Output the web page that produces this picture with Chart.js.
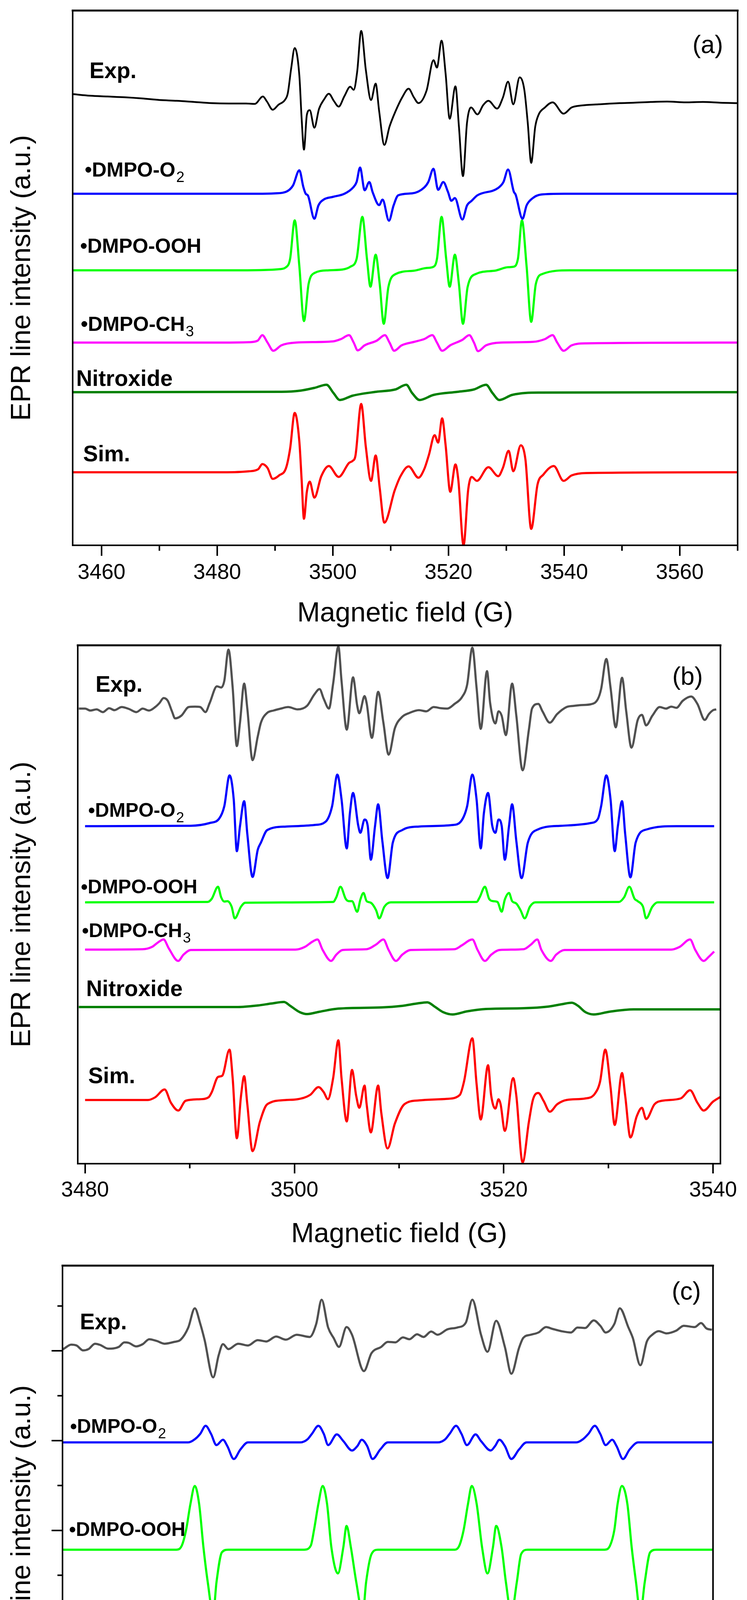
<!DOCTYPE html>
<html><head><meta charset="utf-8">
<script src="https://cdn.jsdelivr.net/npm/chart.js@4.4.0/dist/chart.umd.min.js"></script>
<style>
html,body{margin:0;padding:0;background:#fff;}
#wrap{position:relative;width:1912px;height:4790px;background:#fff;overflow:hidden;}
canvas{position:absolute;left:0;}
</style></head><body><div id="wrap">
<canvas id="ca" width="1912" height="1640" style="top:0px;width:1912px;height:1640px"></canvas>
<canvas id="cb" width="1912" height="1580" style="top:1640px;width:1912px;height:1580px"></canvas>
<canvas id="cc" width="1912" height="1570" style="top:3220px;width:1912px;height:1570px"></canvas>
</div>
<script>
// ---------- axis ticks ----------
const ticksA = [3460, 3480, 3500, 3520, 3540, 3560];
const minorA = [3470, 3490, 3510, 3530, 3550, 3570];
const ticksBC = [3480, 3500, 3520, 3540];
const minorBC = [3490, 3510, 3530];
const yMajorC = [1, 3, 5, 7, 9];
const yMinorC = [0, 2, 4, 6, 8, 10];

// ---------- panel (a) spectra : [field (G), intensity relative to baseline] ----------
const aExp = [[3455.1,23],[3458,19],[3461,17],[3464,15],[3467,12],[3470,8],[3473,6],[3476,3],[3479,0],[3482,-1],[3485,-1],[3486.5,-2],[3487.9,17],[3488.6,4],[3489.6,-17],[3490.6,-4],[3491.7,8],[3492.2,25],[3492.8,90],[3493.4,141],[3494.2,71],[3494.6,-40],[3495.0,-119],[3495.5,-30],[3496.0,-18],[3496.8,-63],[3497.6,-15],[3498.5,10],[3499.3,24],[3500.2,5],[3501.0,-9],[3502.0,18],[3503.0,42],[3503.6,34],[3504.2,80],[3504.9,185],[3505.7,85],[3506.6,8],[3507.4,50],[3508.0,-20],[3508.9,-107],[3509.8,-60],[3510.8,-22],[3512.0,15],[3513.1,37],[3514.0,15],[3514.8,0],[3516.2,32],[3517.4,110],[3518.0,91],[3518.8,160],[3519.5,75],[3520.2,-40],[3521.2,43],[3521.8,-60],[3522.5,-187],[3523.2,-50],[3523.9,-11],[3525.0,-29],[3526.0,-5],[3526.9,6],[3528.4,-14],[3529.4,14],[3530.3,55],[3531.2,-3],[3532.3,66],[3533.1,35],[3533.7,-50],[3534.3,-153],[3535.0,-60],[3535.6,-29],[3536.6,-12],[3538.0,2],[3539.9,-27],[3541.3,-11],[3543,-6],[3546,-3],[3549.6,0],[3552,1],[3555,3],[3557.8,4],[3561,2],[3564,3],[3567,1],[3570,0]];
const aO2 = [[3455,0],[3487,0],[3490,1],[3491.9,5],[3493.1,21],[3494.2,60],[3494.9,17],[3495.3,0],[3495.7,-5],[3496.8,-64],[3497.5,-30],[3498.4,-15],[3500,-8],[3502,0],[3503.5,16],[3504.1,30],[3504.7,67],[3505.5,9],[3506.3,30],[3506.9,3],[3508.0,-29],[3508.6,-15],[3509.7,-69],[3510.5,-30],[3511.3,-4],[3513.7,1],[3515.8,16],[3516.5,30],[3517.4,64],[3518.2,10],[3519.1,30],[3519.9,5],[3520.5,-18],[3521.1,-11],[3522.4,-66],[3523.2,-30],[3524.0,-18],[3525.0,-4],[3528.5,14],[3529.5,30],[3530.3,62],[3531.3,5],[3531.6,-2],[3532.8,-64],[3533.5,-30],[3534.5,-12],[3536,-2],[3540,0],[3570,0]];
const aOOH = [[3455,0],[3484,0],[3488.5,1],[3490.8,3],[3491.9,8],[3492.6,29],[3493.4,128],[3494.2,11],[3495.0,-130],[3495.8,-35],[3496.8,-7],[3499.3,0],[3502,3],[3503.0,9],[3504.1,29],[3505.1,137],[3505.9,29],[3506.5,-42],[3507.4,40],[3508.1,-35],[3508.8,-137],[3509.6,-43],[3510.8,-10],[3514,-1],[3516.2,6],[3517.4,9],[3518.0,29],[3518.8,137],[3519.6,29],[3520.2,-42],[3521.1,40],[3521.8,-35],[3522.5,-137],[3523.3,-43],[3524.8,-9],[3528,-1],[3530.3,8],[3531.2,9],[3532.0,29],[3532.7,128],[3533.5,11],[3534.3,-132],[3535.1,-35],[3536.3,-9],[3541,0],[3570,0]];
const aCH3 = [[3455,0],[3481,0],[3485.5,1],[3487.0,5],[3487.8,19],[3488.7,0],[3489.7,-21],[3491.1,-7],[3493.6,0],[3500,3],[3501.4,9],[3502.8,19],[3503.6,0],[3504.3,-20],[3505.5,-7],[3507.6,5],[3509.0,19],[3509.8,0],[3510.6,-21],[3511.9,-7],[3514.1,2],[3515.8,9],[3517.2,19],[3518.0,0],[3518.9,-21],[3520.3,-7],[3522.4,7],[3523.6,19],[3524.4,0],[3525.1,-22],[3526.5,-7],[3529.0,0],[3534.7,2],[3536.7,9],[3538.0,19],[3538.8,0],[3539.9,-21],[3541.3,-7],[3543.8,-2],[3570,0]];
const aNit = [[3455,0],[3491.1,1],[3494.4,4],[3496.8,11],[3498.9,19],[3500.1,-2],[3501.2,-20],[3503.4,-9],[3507.5,1],[3510.8,7],[3512.7,19],[3513.7,-2],[3515.0,-20],[3517.4,-7],[3521.6,1],[3524.4,7],[3526.5,19],[3527.6,-2],[3528.8,-20],[3531.0,-7],[3535.6,-1],[3570,0]];
const aSim = [[3455,0],[3481,0],[3485.5,2.5],[3487.1,8],[3487.8,21],[3488.7,11],[3489.6,-17],[3490.7,-8],[3491.9,11],[3492.6,60],[3493.4,152],[3494.2,79],[3494.6,-20],[3495.0,-119],[3495.5,-50],[3496.0,-24],[3496.8,-65],[3498.0,-10],[3499.3,16],[3501.0,-12],[3502.8,24],[3503.4,29],[3503.9,42],[3504.9,175],[3505.7,65],[3506.6,-22],[3507.4,43],[3508.1,-40],[3508.9,-129],[3510.7,-46],[3511.7,-10],[3513.1,15],[3514.8,-14],[3515.8,8],[3516.6,44],[3517.6,95],[3518.2,76],[3518.9,138],[3519.5,69],[3520.3,-50],[3521.2,20],[3521.7,-20],[3522.6,-187],[3523.4,-45],[3524.0,-12],[3524.9,-22],[3526.9,13],[3528.6,-10],[3529.4,11],[3530.4,55],[3531.2,2.5],[3532.5,69],[3533.3,33],[3534.3,-145],[3535.4,-31],[3536.4,-6],[3538.2,16],[3539.9,-22],[3541.3,-8],[3543.8,-2],[3570,0]];
const baseA = [1132, 900, 704, 519, 392, 187];

// ---------- panel (b) spectra ----------
const bExp = [[3479.4,0],[3480.0,0],[3480.5,-5],[3481.1,-2],[3481.7,-9],[3482.3,1],[3482.8,-4],[3483.5,4],[3484.2,-1],[3484.9,-9],[3485.5,0],[3486.1,-5],[3486.7,4],[3487.1,14],[3487.5,27],[3487.9,20],[3488.3,-7],[3488.6,-25],[3489.2,-18],[3489.9,4],[3490.5,5],[3491.0,4],[3491.5,-9],[3491.9,14],[3492.6,57],[3493.0,54],[3493.3,71],[3493.7,151],[3494.1,54],[3494.5,-96],[3494.8,-36],[3495.2,64],[3495.5,0],[3496.0,-132],[3496.5,-71],[3496.8,-36],[3497.4,-11],[3498.0,-5],[3498.7,0],[3499.4,4],[3500.3,-2],[3501.2,7],[3501.9,36],[3502.4,50],[3502.8,25],[3503.3,0],[3503.7,64],[3504.2,159],[3504.5,71],[3505.0,-54],[3505.6,80],[3506.0,7],[3506.2,-12],[3506.7,32],[3506.9,14],[3507.4,-75],[3508.0,43],[3508.5,-36],[3509.0,-118],[3509.6,-50],[3510.3,-21],[3511.0,-11],[3511.9,-4],[3512.6,-7],[3513.3,4],[3514.0,1],[3514.6,0],[3515.3,12],[3516.0,29],[3516.5,61],[3517.0,156],[3517.4,54],[3517.8,-52],[3518.4,96],[3518.7,14],[3519.2,-38],[3519.5,-7],[3519.8,-18],[3520.2,-68],[3520.8,64],[3521.2,-18],[3521.8,-158],[3522.4,-54],[3522.7,0],[3523.3,12],[3523.7,-7],[3524.4,-36],[3525.1,-14],[3526.0,4],[3526.7,7],[3527.4,9],[3528.3,11],[3529.0,25],[3529.3,50],[3529.8,127],[3530.2,54],[3530.7,-48],[3531.3,79],[3531.7,-7],[3532.2,-100],[3532.8,-29],[3533.2,-16],[3533.6,-43],[3534.2,-18],[3534.9,4],[3535.5,0],[3536.0,5],[3536.5,2],[3537.1,20],[3537.9,31],[3538.5,12],[3539.2,-29],[3539.6,-14],[3540.0,-4],[3540.3,-2]];
const bO2 = [[3480.0,0],[3490.1,1],[3491.9,8],[3492.8,19],[3493.3,51],[3493.8,130],[3494.2,69],[3494.5,-64],[3494.8,0],[3495.2,64],[3495.5,-20],[3496.0,-130],[3496.5,-60],[3496.8,-42],[3497.4,-10],[3499.2,-1],[3501.9,3],[3503.0,12],[3503.6,51],[3504.1,132],[3504.5,69],[3505.0,-57],[3505.3,33],[3505.6,85],[3506.1,1],[3506.3,-17],[3506.7,17],[3507.0,1],[3507.3,-86],[3507.7,0],[3508.0,56],[3508.4,-38],[3508.9,-133],[3509.4,-42],[3510.3,-10],[3511.9,-1],[3515.1,3],[3515.9,12],[3516.5,51],[3517.0,132],[3517.4,69],[3517.8,-57],[3518.1,33],[3518.5,85],[3518.9,1],[3519.2,-17],[3519.5,17],[3519.8,1],[3520.1,-86],[3520.5,0],[3520.8,56],[3521.2,-38],[3521.7,-133],[3522.3,-42],[3523.3,-8],[3525.5,1],[3528.3,8],[3529.0,19],[3529.3,51],[3529.8,130],[3530.2,69],[3530.6,-64],[3530.9,0],[3531.3,64],[3531.6,-20],[3532.1,-131],[3532.6,-42],[3533.7,-8],[3536.5,0],[3540.1,0]];
const bOOH = [[3480.0,0],[3491.7,1],[3492.1,9],[3492.7,40],[3493.0,13],[3493.3,2],[3493.6,3],[3494.0,-11],[3494.3,-41],[3494.9,-11],[3495.3,-1],[3503.7,1],[3504.0,13],[3504.4,40],[3504.9,9],[3505.2,3],[3505.5,3],[3506.0,-24],[3506.3,7],[3506.6,24],[3506.9,3],[3507.3,-1],[3507.8,-20],[3508.1,-41],[3508.6,-11],[3509.2,0],[3517.4,1],[3517.7,13],[3518.2,40],[3518.6,9],[3519.0,3],[3519.4,1],[3519.8,-24],[3520.1,7],[3520.5,24],[3520.8,3],[3521.2,-3],[3521.6,-20],[3522.0,-41],[3522.5,-11],[3523.0,0],[3531.0,1],[3531.5,13],[3532.0,40],[3532.5,9],[3532.8,3],[3533.3,-11],[3533.6,-41],[3534.2,-11],[3534.7,0],[3540.1,0]];
const bCH3 = [[3480.0,0],[3485.5,1],[3486.4,7],[3487.0,19],[3487.5,26],[3488.0,3],[3488.9,-29],[3489.4,-13],[3490.1,-1],[3500.1,0],[3501.0,7],[3501.7,20],[3502.2,26],[3502.7,-1],[3503.5,-29],[3504.0,-13],[3504.6,-1],[3506.9,1],[3507.8,13],[3508.5,26],[3509.0,-1],[3509.7,-29],[3510.3,-13],[3511.1,-1],[3515.3,1],[3516.0,11],[3517.0,26],[3517.5,-1],[3518.2,-29],[3518.8,-13],[3519.6,-1],[3521.9,1],[3522.6,13],[3523.2,26],[3523.6,-1],[3524.5,-29],[3525.0,-13],[3525.8,-1],[3536.0,0],[3536.8,7],[3537.8,26],[3538.3,-1],[3539.1,-29],[3539.6,-18],[3540.1,-5]];
const bNit = [[3479.4,0],[3494.6,0],[3496.5,4],[3497.8,9],[3499.0,13],[3499.6,3],[3500.5,-13],[3501.2,-18],[3502.4,-12],[3504.2,-4],[3508.3,-1],[3510.3,3],[3511.7,9],[3512.7,12],[3513.4,1],[3514.2,-13],[3515.1,-19],[3516.5,-11],[3518.3,-5],[3521.9,-3],[3524.2,1],[3525.5,7],[3526.5,11],[3527.1,3],[3527.8,-13],[3528.6,-19],[3530.1,-12],[3532.4,-6],[3540.7,-6]];
const bSim = [[3480.0,0],[3486.0,0],[3486.7,7],[3487.6,27],[3488.2,-7],[3488.9,-27],[3489.6,-2],[3491.0,2],[3491.8,7],[3492.1,20],[3492.7,59],[3493.1,62],[3493.8,129],[3494.1,56],[3494.5,-98],[3494.9,11],[3495.2,61],[3495.5,-11],[3496.0,-131],[3496.7,-56],[3497.4,-11],[3499.2,0],[3500.3,2],[3501.5,13],[3502.3,33],[3502.8,20],[3503.2,2],[3503.7,56],[3504.2,153],[3504.5,56],[3505.0,-55],[3505.5,77],[3505.9,11],[3506.2,-20],[3506.7,37],[3506.9,-11],[3507.3,-83],[3508.0,37],[3508.3,-33],[3508.9,-124],[3509.6,-60],[3510.5,-11],[3511.9,-1],[3514.6,3],[3515.8,13],[3516.2,47],[3517.0,158],[3517.4,42],[3517.8,-50],[3518.5,89],[3518.8,11],[3519.2,-22],[3519.5,2],[3519.7,-11],[3520.1,-79],[3520.9,56],[3521.2,11],[3521.8,-160],[3522.4,-56],[3522.8,2],[3523.3,18],[3523.8,-2],[3524.4,-30],[3525.1,-11],[3526.0,0],[3527.8,4],[3528.7,16],[3529.2,47],[3529.7,129],[3530.2,33],[3530.6,-64],[3531.3,69],[3531.6,11],[3532.1,-96],[3532.7,-42],[3533.2,-20],[3533.6,-49],[3534.4,-11],[3535.1,-2],[3536.9,4],[3537.8,25],[3538.5,-7],[3539.1,-27],[3540.0,-4],[3540.7,8]];
const baseB = [1165, 864, 669, 548, 401, 163];

// ---------- panel (c) spectra ----------
const cExp = [[3480.0,-0.03],[3480.2,0.00],[3480.8,0.08],[3481.3,0.06],[3481.9,-0.05],[3482.4,-0.02],[3483.0,0.10],[3483.5,0.07],[3484.2,-0.01],[3485.2,0.03],[3485.7,0.13],[3486.1,0.12],[3486.8,0.04],[3487.4,0.09],[3488.0,0.20],[3488.7,0.16],[3489.4,0.10],[3490.3,0.14],[3490.9,0.19],[3491.6,0.46],[3492.2,0.89],[3492.7,0.55],[3493.1,0.19],[3493.9,-0.65],[3494.4,-0.16],[3494.8,0.09],[3495.3,-0.02],[3496.2,0.10],[3497.1,0.06],[3498.0,0.18],[3498.8,0.15],[3499.7,0.26],[3500.6,0.19],[3501.6,0.30],[3502.8,0.25],[3503.4,0.54],[3503.9,1.08],[3504.5,0.46],[3505.0,0.23],[3505.5,0.03],[3506.2,0.47],[3506.7,0.30],[3507.8,-0.51],[3508.5,-0.11],[3509.4,0.03],[3510.0,0.14],[3510.7,0.13],[3511.4,0.24],[3512.0,0.20],[3512.7,0.31],[3513.3,0.25],[3514.0,0.37],[3514.6,0.30],[3515.5,0.42],[3516.4,0.46],[3517.2,0.57],[3517.8,1.08],[3518.6,0.30],[3519.2,-0.08],[3520.0,0.61],[3520.8,0.03],[3521.4,-0.57],[3522.1,0.00],[3522.5,0.23],[3523.2,0.30],[3523.9,0.35],[3524.6,0.47],[3525.2,0.43],[3526.0,0.38],[3526.9,0.35],[3527.5,0.46],[3528.2,0.45],[3529.0,0.62],[3529.6,0.50],[3530.1,0.35],[3530.9,0.54],[3531.4,0.89],[3532.2,0.46],[3532.6,0.23],[3533.3,-0.38],[3533.9,0.15],[3534.4,0.30],[3535.0,0.38],[3535.7,0.33],[3536.6,0.39],[3537.3,0.50],[3538.3,0.47],[3538.9,0.56],[3539.4,0.44],[3539.9,0.41]];
const cO2 = [[3480,0],[3491.6,0],[3492.2,0.07],[3492.7,0.19],[3493.2,0.37],[3493.7,0.19],[3494.2,-0.06],[3494.8,0.06],[3495.2,-0.08],[3495.8,-0.37],[3496.4,-0.16],[3497.1,0],[3501.9,0],[3502.6,0.07],[3503.0,0.19],[3503.6,0.37],[3504.1,0.19],[3504.5,-0.06],[3505.3,0.18],[3505.9,0.03],[3506.7,-0.18],[3507.2,-0.08],[3507.6,0.06],[3508.1,-0.08],[3508.6,-0.37],[3509.3,-0.16],[3510.0,0],[3514.6,0],[3515.3,0.07],[3515.7,0.19],[3516.3,0.37],[3516.8,0.19],[3517.3,-0.06],[3518.1,0.18],[3518.6,0.03],[3519.5,-0.18],[3519.9,-0.08],[3520.3,0.06],[3520.8,-0.08],[3521.4,-0.37],[3522.1,-0.16],[3522.8,0],[3527.4,0],[3528.0,0.07],[3528.5,0.19],[3529.1,0.37],[3529.6,0.19],[3530.1,-0.06],[3530.7,0.06],[3531.1,-0.08],[3531.7,-0.37],[3532.3,-0.16],[3533.1,0],[3540,0]];
const cOOH = [[3480,0],[3490.5,0],[3491.0,0.09],[3491.4,0.44],[3491.8,1.02],[3492.2,1.42],[3492.6,1.02],[3493.0,0.05],[3493.4,-0.73],[3493.9,-1.43],[3494.2,-0.73],[3494.7,-0.06],[3495.3,0],[3502.3,0],[3502.9,0.09],[3503.2,0.44],[3503.6,1.02],[3504.0,1.42],[3504.4,1.02],[3504.8,0.05],[3505.4,-0.53],[3505.9,0.05],[3506.2,0.53],[3506.6,0.05],[3507.1,-0.73],[3507.7,-1.43],[3508.0,-0.73],[3508.5,-0.1],[3509.1,0],[3516.2,0],[3516.6,0.09],[3517.0,0.44],[3517.4,1.02],[3517.75,1.42],[3518.2,1.02],[3518.7,0.05],[3519.2,-0.53],[3519.7,0.05],[3520.0,0.53],[3520.5,0.05],[3520.9,-0.73],[3521.4,-1.43],[3521.9,-0.73],[3522.3,-0.1],[3522.9,0],[3530.0,0],[3530.5,0.09],[3530.9,0.44],[3531.2,1.02],[3531.6,1.42],[3532.1,1.02],[3532.5,0.05],[3532.9,-0.73],[3533.3,-1.43],[3533.7,-0.73],[3534.2,-0.06],[3534.8,0],[3540,0]];
const cSim = [[3480,0],[3490.3,0],[3490.8,0.05],[3491.4,0.34],[3491.7,0.97],[3492.2,1.47],[3492.6,0.97],[3492.9,0.50],[3493.2,0.10],[3493.6,-0.61],[3494.0,-1.38],[3494.4,-0.61],[3494.7,-0.21],[3495.0,-0.03],[3495.4,-0.25],[3495.8,-0.39],[3496.2,-0.21],[3496.9,-0.03],[3497.5,0],[3501.9,0],[3502.6,0.1],[3503.0,0.50],[3503.4,0.97],[3503.9,1.66],[3504.4,0.97],[3504.7,0.26],[3505.1,-0.21],[3505.4,-0.38],[3505.8,0.03],[3506.1,0.50],[3506.6,0.10],[3507.0,-0.49],[3507.4,-1.0],[3507.7,-1.39],[3508.1,-1.0],[3508.5,-0.53],[3509.1,-0.25],[3509.6,-0.03],[3510.0,0],[3515.1,0],[3515.5,0.07],[3516.0,0.22],[3516.4,0.38],[3516.7,0.30],[3517.2,0.89],[3517.8,1.51],[3518.1,0.97],[3518.5,0.26],[3518.8,-0.21],[3519.2,-0.65],[3519.7,0.00],[3520.0,0.48],[3520.5,0.0],[3520.9,-0.61],[3521.1,-1.0],[3521.4,-1.81],[3521.8,-1.0],[3522.1,-0.45],[3522.5,-0.05],[3523.2,0],[3527.8,0],[3528.3,0.07],[3528.7,0.22],[3529.1,0.38],[3529.6,0.10],[3530.1,-0.05],[3530.5,0.18],[3531.0,0.58],[3531.5,1.08],[3531.9,0.78],[3532.2,0.34],[3532.5,-0.21],[3532.9,-0.61],[3533.3,-1.45],[3533.7,-0.61],[3534.0,-0.29],[3534.5,-0.03],[3535.0,0],[3540,0]];
const baseC = [9.06, 6.96, 4.57, 1.03];

// ---------- series names, colours ----------
const namesA = ['Exp.', '•DMPO-O2', '•DMPO-OOH', '•DMPO-CH3', 'Nitroxide', 'Sim.'];
const colorsA = ['#000000', '#0000ff', '#00ff00', '#ff00ff', '#008000', '#ff0000'];
const colorsB = ['#505050', '#0000ff', '#00ff00', '#ff00ff', '#008000', '#ff0000'];
const namesC = ['Exp.', '•DMPO-O2', '•DMPO-OOH', 'Sim.'];
const colorsC = ['#505050', '#0000ff', '#00ff00', '#ff0000'];

// ---------- in-plot labels (anchored in data coordinates) ----------
const labelsA = [
  {text:'Exp.', x:3457.9, y:1196, size:57, bold:true},
  {text:'•DMPO-O', sub:'2', x:3457.1, y:944, size:52, bold:true},
  {text:'•DMPO-OOH', x:3456.3, y:749, size:52, bold:true},
  {text:'•DMPO-CH', sub:'3', x:3456.4, y:549, size:52, bold:true},
  {text:'Nitroxide', x:3455.6, y:408, size:57, bold:true},
  {text:'Sim.', x:3456.8, y:215, size:57, bold:true},
  {text:'(a)', x:3562.2, y:1260, size:64, bold:false}
];
const labelsB = [
  {text:'Exp.', x:3481.0, y:1208, size:57, bold:true},
  {text:'(b)', x:3536.1, y:1226, size:64, bold:false},
  {text:'•DMPO-O', sub:'2', x:3480.3, y:888, size:50, bold:true},
  {text:'•DMPO-OOH', x:3479.6, y:692, size:50, bold:true},
  {text:'•DMPO-CH', sub:'3', x:3479.7, y:580, size:50, bold:true},
  {text:'Nitroxide', x:3480.1, y:429, size:57, bold:true},
  {text:'Sim.', x:3480.3, y:206, size:57, bold:true}
];
const labelsC = [
  {text:'(c)', x:3536.2, y:10.14, size:64, bold:false},
  {text:'Exp.', x:3481.6, y:9.48, size:57, bold:true},
  {text:'•DMPO-O', sub:'2', x:3480.7, y:7.17, size:50, bold:true},
  {text:'•DMPO-OOH', x:3480.6, y:4.88, size:50, bold:true},
  {text:'Sim.', x:3480.9, y:1.37, size:57, bold:true}
];

const FONT = "'Liberation Sans', Arial, Helvetica, sans-serif";
Chart.defaults.font.family = FONT;
Chart.defaults.color = '#000';

function toXY(pairs, offset){ return pairs.map(p => ({x:p[0], y:p[1] + offset})); }
function makeSets(arrs, bases, names, colors, widths){
  return arrs.map((a,i) => ({
    label:names[i], data:toXY(a, bases[i]), borderColor:colors[i], backgroundColor:colors[i],
    borderWidth:widths[i], pointRadius:0, fill:false, cubicInterpolationMode:'monotone', borderJoinStyle:'round'
  }));
}

const labelPlugin = {
  id:'plotLabels',
  afterDatasetsDraw(chart, args, opts){
    const {ctx} = chart; const xs = chart.scales.x, ys = chart.scales.y;
    ctx.save(); ctx.fillStyle = '#000'; ctx.textBaseline = 'alphabetic'; ctx.textAlign = 'left';
    (opts.items || []).forEach(it => {
      const px = xs.getPixelForValue(it.x), py = ys.getPixelForValue(it.y);
      const w8 = it.bold ? 'bold ' : '';
      ctx.font = w8 + it.size + 'px ' + FONT;
      ctx.fillText(it.text, px, py);
      if (it.sub){
        const w = ctx.measureText(it.text).width;
        ctx.font = Math.round(it.size * 0.74) + 'px ' + FONT;
        ctx.fillText(it.sub, px + w + 2, py + it.size * 0.27);
      }
    });
    ctx.restore();
  }
};
const framePlugin = {
  id:'frameBox',
  afterDraw(chart, args, opts){
    const {ctx, chartArea:{left,right,top,bottom}} = chart;
    const xs = chart.scales.x, ys = chart.scales.y;
    ctx.save(); ctx.strokeStyle = '#000'; ctx.lineCap = 'square';
    ctx.lineWidth = 4;
    ctx.beginPath();
    ctx.moveTo(left, top); ctx.lineTo(left, bottom); ctx.lineTo(right, bottom); ctx.lineTo(right, top);
    ctx.stroke();
    ctx.lineWidth = 5;
    ctx.beginPath(); ctx.moveTo(left, top); ctx.lineTo(right, top); ctx.stroke();
    ctx.lineWidth = 4; ctx.lineCap = 'butt';
    (opts.xMinor || []).forEach(v => {
      const p = xs.getPixelForValue(v);
      ctx.beginPath(); ctx.moveTo(p, bottom); ctx.lineTo(p, bottom + opts.xMinorLen); ctx.stroke();
    });
    (opts.yMinor || []).forEach(v => {
      const p = ys.getPixelForValue(v);
      ctx.beginPath(); ctx.moveTo(left, p); ctx.lineTo(left - opts.yMinorLen, p); ctx.stroke();
    });
    ctx.restore();
  }
};

function panel(id, cfg){
  return new Chart(document.getElementById(id), {
    type:'line',
    data:{datasets:cfg.sets},
    options:{
      responsive:false, animation:false, devicePixelRatio:1,
      layout:{padding:{top:cfg.padTop, right:cfg.padRight, left:0, bottom:0}},
      plugins:{legend:{display:false}, tooltip:{enabled:false},
        plotLabels:{items:cfg.labels},
        frameBox:{xMinor:cfg.xMinor, xMinorLen:cfg.xMinorLen, yMinor:cfg.yMinor || [], yMinorLen:cfg.yMinorLen || 0}},
      scales:{
        x:{type:'linear', position:'bottom', min:cfg.xmin, max:cfg.xmax,
          afterBuildTicks:s => { s.ticks = cfg.xTicks.map(v => ({value:v})); },
          afterFit:s => { s.height = cfg.xHeight; },
          grid:{display:true, drawOnChartArea:false, drawTicks:true, tickLength:cfg.xTickLen, tickWidth:4, lineWidth:4, tickColor:'#000', color:'#000'},
          border:{display:false},
          ticks:{autoSkip:false, maxRotation:0, minRotation:0, padding:cfg.tickPad, color:'#000',
            font:{family:FONT, size:55, lineHeight:1.2}, callback:v => String(v)},
          title:{display:true, text:'Magnetic field (G)', color:'#000',
            font:{family:FONT, size:70, lineHeight:1}, padding:{top:0, bottom:cfg.xTitlePad}}
        },
        y:{type:'linear', position:'left', min:cfg.ymin, max:cfg.ymax,
          afterBuildTicks:s => { s.ticks = (cfg.yTicks || []).map(v => ({value:v})); },
          afterFit:s => { s.width = cfg.yWidth; },
          grid:{display:!!cfg.yTicks, drawOnChartArea:false, drawTicks:true, tickLength:28, tickWidth:4, lineWidth:4, tickColor:'#000', color:'#000'},
          border:{display:false},
          ticks:{display:false},
          title:{display:true, text:'EPR line intensity (a.u.)', color:'#000',
            font:{family:FONT, size:70, lineHeight:1}, padding:{top:23, bottom:0}}
        }
      }
    },
    plugins:[labelPlugin, framePlugin]
  });
}

panel('ca', {
  sets:makeSets([aExp,aO2,aOOH,aCH3,aNit,aSim], baseA, namesA, colorsA, [4.5,5.5,5.5,5.5,6,5.5]),
  labels:labelsA, padTop:27, padRight:24, yWidth:186, xHeight:244,
  xmin:3455, xmax:3570, xTicks:ticksA, xMinor:minorA, xTickLen:27, xMinorLen:14,
  tickPad:11, xTitlePad:33, ymin:0, ymax:1369
});
panel('cb', {
  sets:makeSets([bExp,bO2,bOOH,bCH3,bNit,bSim], baseB, namesA, colorsB, [5.5,5.5,5.5,5.5,6,5.5]),
  labels:labelsB, padTop:12, padRight:68, yWidth:199, xHeight:241,
  xmin:3479.3, xmax:3540.7, xTicks:ticksBC, xMinor:minorBC, xTickLen:25, xMinorLen:12,
  tickPad:11, xTitlePad:24, ymin:0, ymax:1327
});
panel('cc', {
  sets:makeSets([cExp,cO2,cOOH,cSim], baseC, namesC, colorsC, [5.5,5.5,5.5,5.5]),
  labels:labelsC, padTop:20, padRight:87, yWidth:160, xHeight:206,
  xmin:3480, xmax:3540, xTicks:ticksBC, xMinor:minorBC, xTickLen:27, xMinorLen:12,
  tickPad:13, xTitlePad:15, ymin:-0.8, ymax:10.9, yTicks:yMajorC, yMinor:yMinorC, yMinorLen:13
});
</script>
</body></html>
